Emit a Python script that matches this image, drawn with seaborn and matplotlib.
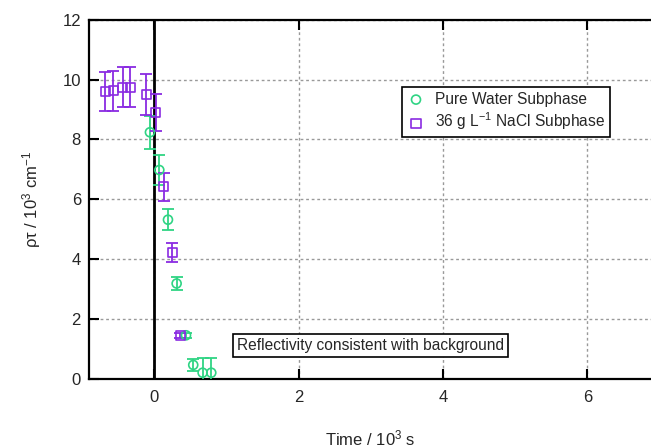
import matplotlib
matplotlib.use("Agg")
import matplotlib.pyplot as plt
import seaborn as sns
import pandas as pd

# Pure water subphase
water_t = [-0.06, 0.07, 0.19, 0.31, 0.44, 0.54, 0.67, 0.79]
water_rho = [8.24, 6.98, 5.32, 3.19, 1.46, 0.47, 0.21, 0.21]
water_err = [0.56, 0.50, 0.36, 0.22, 0.08, 0.20, 0.50, 0.50]

# 36 g/L NaCl subphase
nacl_t = [-0.68, -0.57, -0.44, -0.33, -0.11, 0.02, 0.13, 0.25, 0.36]
nacl_rho = [9.60, 9.63, 9.74, 9.74, 9.50, 8.90, 6.42, 4.22, 1.44]
nacl_err = [0.66, 0.67, 0.67, 0.67, 0.67, 0.63, 0.47, 0.31, 0.08]

x_ticks = [0, 2, 4, 6]
y_ticks = [0, 2, 4, 6, 8, 10, 12]

green = "#2fd484"
purple = "#8a2be2"

sns.set_style("white")
plt.rcParams["font.family"] = ["Liberation Sans", "DejaVu Sans"]
plt.rcParams["mathtext.default"] = "regular"

fig = plt.figure(figsize=(6.51, 4.48), dpi=100)
W, H = 651, 448
left, right, top, bottom = 89.3, 651, 19.7, 379
ax = fig.add_axes([left / W, 1 - bottom / H, (right - left) / W, (bottom - top) / H])

df_w = pd.DataFrame({"t": water_t, "rho": water_rho, "err": water_err})
df_n = pd.DataFrame({"t": nacl_t, "rho": nacl_rho, "err": nacl_err})

ax.errorbar(df_w["t"], df_w["rho"], yerr=df_w["err"], fmt="none", ecolor=green,
            elinewidth=1.3, capsize=4, capthick=1.3, zorder=3)
ax.errorbar(df_n["t"], df_n["rho"], yerr=df_n["err"], fmt="none", ecolor=purple,
            elinewidth=1.3, capsize=4, capthick=1.3, zorder=3)

sns.scatterplot(data=df_w, x="t", y="rho", ax=ax, marker="o", s=42,
                facecolors="none", edgecolor=green, linewidth=1.2, zorder=4,
                label="Pure Water Subphase")
sns.scatterplot(data=df_n, x="t", y="rho", ax=ax, marker="s", s=42,
                facecolors="none", edgecolor=purple, linewidth=1.2, zorder=4,
                label=r"36 g L$^{-1}$ NaCl Subphase")

ax.axvline(0, color="black", lw=2, zorder=2)

ax.set_xlim(-0.9, (right - 154.3) / 72.17)
ax.set_ylim(0, 12)
ax.set_xticks(x_ticks)
ax.set_yticks(y_ticks)
ax.set_xticklabels([str(v) for v in x_ticks], fontsize=12)
ax.set_yticklabels([str(v) for v in y_ticks], fontsize=12)
ax.tick_params(axis="both", direction="in", length=7, width=1.5, color="black")
ax.tick_params(axis="x", top=True, bottom=True, pad=8)
ax.tick_params(axis="y", left=True, pad=6)

ax.grid(True, color="#999999", linestyle=(0, (2, 2)), linewidth=1)
ax.set_axisbelow(True)

for side in ["left", "bottom", "top"]:
    ax.spines[side].set_color("black")
    ax.spines[side].set_linewidth(1.6)
ax.spines["right"].set_visible(False)

ax.set_xlabel(r"Time / 10$^3$ s", fontsize=12, labelpad=17)
ax.set_ylabel(r"ρτ / 10$^3$ cm$^{-1}$", fontsize=12, labelpad=14)

leg = ax.legend(loc="upper left", bbox_to_anchor=((402 - left) / (right - left), (bottom - 87) / (bottom - top)),
                borderaxespad=0,
                fontsize=11.2, frameon=True, fancybox=False, edgecolor="black",
                framealpha=1, borderpad=0.3, handletextpad=0.6, labelspacing=0.25,
                handlelength=1.2)
leg.get_frame().set_linewidth(1.2)

ax.text(3.0, 1.13, "Reflectivity consistent with background", fontsize=11.2,
        ha="center", va="center",
        bbox=dict(boxstyle="square,pad=0.25", facecolor="white", edgecolor="black", linewidth=1.2))

fig.savefig("out.png", dpi=100)
